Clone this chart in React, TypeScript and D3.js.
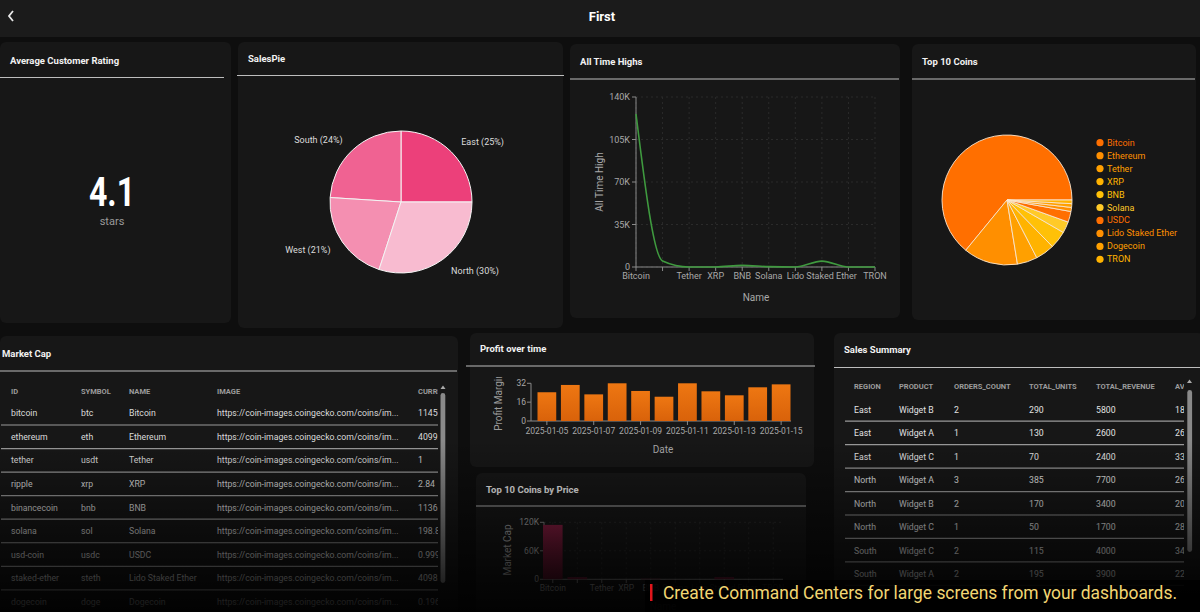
import React from "react";
import * as d3 from "d3";

// ---------------- data ----------------
const pageTitle = "First";
const ratingValue = "4.1";
const ratingUnit = "stars";

const salesRegions = ["East", "South", "West", "North"];
const salesShares = [25, 24, 21, 30];
const salesColors = ["#ec407a", "#f06292", "#f48fb1", "#f8bbd0"];

const coinNames = ["Bitcoin", "Ethereum", "Tether", "XRP", "BNB", "Solana", "USDC", "Lido Staked Ether", "Dogecoin", "TRON"];
const coinAllTimeHighs = [126000, 4950, 1.32, 3.65, 1370, 293, 1.17, 4830, 0.73, 0.43];
const coinMarketCapsB = [2280, 481, 178, 168, 156, 100, 95, 36, 33, 32];
const coinPrices = [114568, 4099, 1, 2.84, 1136, 198.8, 0.9998, 4098, 0.196, 0.334];
const coinPalette = ["#ff6f00", "#ff8f00", "#ffa000", "#ffb300", "#ffc107", "#ffca28"];

const athTicks = [0, 35000, 70000, 105000, 140000];
const priceTicks = [0, 60000, 120000];

const marketColumns = ["ID", "SYMBOL", "NAME", "IMAGE", "CURRENT_PRICE"];
const marketIds = ["bitcoin", "ethereum", "tether", "ripple", "binancecoin", "solana", "usd-coin", "staked-ether", "dogecoin"];
const marketSymbols = ["btc", "eth", "usdt", "xrp", "bnb", "sol", "usdc", "steth", "doge"];
const marketNames = ["Bitcoin", "Ethereum", "Tether", "XRP", "BNB", "Solana", "USDC", "Lido Staked Ether", "Dogecoin"];
const marketImage = "https://coin-images.coingecko.com/coins/im...";
const marketPrices = ["114568", "4099.52", "1", "2.84", "1136.21", "198.85", "0.9998", "4098.72", "0.196"];

const profitDates = ["2025-01-05", "2025-01-06", "2025-01-07", "2025-01-08", "2025-01-09", "2025-01-10", "2025-01-11", "2025-01-12", "2025-01-13", "2025-01-14", "2025-01-15"];
const profitMargins = [24.4, 30.6, 22.6, 32, 25.5, 20.6, 32, 25.2, 21.8, 28.6, 31.1];
const profitTicks = [0, 16, 32];

const summaryColumns = ["REGION", "PRODUCT", "ORDERS_COUNT", "TOTAL_UNITS", "TOTAL_REVENUE", "AVG_PRICE"];
const summaryRegions = ["East", "East", "East", "North", "North", "North", "South", "South"];
const summaryProducts = ["Widget B", "Widget A", "Widget C", "Widget A", "Widget B", "Widget C", "Widget C", "Widget A"];
const summaryOrders = [2, 1, 1, 3, 2, 1, 2, 2];
const summaryUnits = [290, 130, 70, 385, 170, 50, 115, 195];
const summaryRevenue = [5800, 2600, 2400, 7700, 3400, 1700, 4000, 3900];
const summaryAvg = ["18.5", "26.0", "33.5", "26.0", "20.0", "28.0", "34.0", "22.0"];

const bannerText = "Create Command Centers for large screens from your dashboards.";

// ---------------- helpers ----------------
const FONT = "Roboto, 'Noto Sans', 'DejaVu Sans', sans-serif";
let ctx: CanvasRenderingContext2D | null = null;
function measure(text: string, size: number) {
  if (!ctx) ctx = document.createElement("canvas").getContext("2d");
  if (!ctx) return text.length * size * 0.55;
  ctx.font = `${size}px Roboto`;
  return ctx.measureText(text).width;
}
function visibleLabels(labels: string[], pos: number[], size: number, gap = 2) {
  const show = labels.map(() => false);
  let boundary = Infinity;
  for (let i = labels.length - 1; i >= 0; i--) {
    const w = measure(labels[i], size);
    if (pos[i] + w / 2 + gap <= boundary) {
      show[i] = true;
      boundary = pos[i] - w / 2;
    }
  }
  return show;
}
const kFmt = (d: number) => (d === 0 ? "0" : `${d / 1000}K`);

const panels = [
  { x: 0, y: 42, w: 231, h: 281, title: "Average Customer Rating", tx: 10, ty: 60, ly: 77.5, l1: 0, l2: 224 },
  { x: 238, y: 42, w: 325, h: 286, title: "SalesPie", tx: 248, ty: 58, ly: 75.5, l1: 237, l2: 564 },
  { x: 570, y: 44, w: 330, h: 274, title: "All Time Highs", tx: 580, ty: 61, ly: 79, l1: 570, l2: 899 },
  { x: 912, y: 44, w: 284, h: 276, title: "Top 10 Coins", tx: 922, ty: 61, ly: 79, l1: 912, l2: 1195 },
  { x: 0, y: 336, w: 458, h: 290, title: "Market Cap", tx: 2, ty: 353, ly: 371, l1: 0, l2: 457 },
  { x: 470, y: 333, w: 344, h: 134, title: "Profit over time", tx: 480, ty: 348, ly: 366, l1: 466, l2: 815 },
  { x: 476, y: 473, w: 330, h: 150, title: "Top 10 Coins by Price", tx: 486, ty: 489, ly: 506, l1: 476, l2: 806 },
  { x: 834, y: 333, w: 370, h: 290, title: "Sales Summary", tx: 844, ty: 349, ly: 367.5, l1: 834, l2: 1200 },
];

export default function App() {
  // Sales pie
  const sCx = 401, sCy = 202, sR = 71;
  const salesArcs = d3.pie<number>().sort(null).startAngle(Math.PI / 2).endAngle(Math.PI / 2 - 2 * Math.PI)(salesShares);
  const sArc = d3.arc<d3.PieArcDatum<number>>().innerRadius(0).outerRadius(sR);
  const sLabelArc = d3.arc<d3.PieArcDatum<number>>().innerRadius(sR * 1.2).outerRadius(sR * 1.2);

  // Coins pie
  const cCx = 1007, cCy = 200, cR = 65;
  const coinArcs = d3.pie<number>().sort(null).startAngle(Math.PI / 2).endAngle(Math.PI / 2 - 2 * Math.PI)(coinMarketCapsB);
  const cArc = d3.arc<d3.PieArcDatum<number>>().innerRadius(0).outerRadius(cR);

  // ATH line
  const athX = d3.scalePoint<string>().domain(coinNames).range([636, 875]);
  const athY = d3.scaleLinear().domain([0, 140000]).range([267, 97]);
  const athLine = d3.line<number>().x((_, i) => athX(coinNames[i])!).y((d) => athY(d)).curve(d3.curveMonotoneX);
  const athShow = visibleLabels(coinNames, coinNames.map((n) => athX(n)!), 9);

  // Profit bars
  const pX = d3.scaleBand<string>().domain(profitDates).range([537.5, 790.5]).paddingInner(0.2).paddingOuter(0);
  const pY = d3.scaleLinear().domain([0, 32]).range([421, 383.3]);
  const pShow = visibleLabels(profitDates, profitDates.map((d) => pX(d)! + pX.bandwidth() / 2), 8.5);

  // Price bars
  const bX = d3.scaleBand<string>().domain(coinNames).range([543, 783]).paddingInner(0.2).paddingOuter(0);
  const bY = d3.scaleLinear().domain([0, 120000]).range([579.3, 522.3]);
  const bShow = visibleLabels(coinNames, coinNames.map((n) => bX(n)! + bX.bandwidth() / 2), 8.5);

  const mCols = [11, 81, 129, 217, 418];
  const mRowY = marketIds.map((_, i) => 413.3 + i * 23.55);
  const sCols = [854, 899, 954, 1029, 1096, 1175];
  const sRowY = summaryRegions.map((_, i) => 410 + i * 23.45);

  return (
    <div style={{ position: "fixed", left: 0, top: 0, width: 1200, height: 612, background: "#0e0e0e", overflow: "hidden" }}>
      <svg width={1200} height={612} style={{ display: "block" }} fontFamily={FONT}>
        <defs>
          <linearGradient id="fade" x1="0" y1="440" x2="0" y2="612" gradientUnits="userSpaceOnUse">
            <stop offset="0" stopColor="#000" stopOpacity={0} />
            <stop offset="1" stopColor="#000" stopOpacity={0.92} />
          </linearGradient>
          <linearGradient id="orangeBar" x1="0" y1="0" x2="0" y2="1">
            <stop offset="0" stopColor="#ee7712" />
            <stop offset="1" stopColor="#d9620a" />
          </linearGradient>
          <linearGradient id="crimsonBar" x1="0" y1="0" x2="0" y2="1">
            <stop offset="0" stopColor="#8e1f45" />
            <stop offset="1" stopColor="#5a1229" />
          </linearGradient>
          <clipPath id="mClip"><rect x={0} y={372} width={438} height={240} /></clipPath>
          <clipPath id="sClip"><rect x={834} y={372} width={350} height={240} /></clipPath>
          <clipPath id="pClip"><rect x={470} y={377} width={344} height={90} /></clipPath>
        </defs>

        {/* header */}
        <rect x={0} y={0} width={1200} height={37} fill="#1b1b1b" />
        <path d="M13 11 L9 16 L13 21" stroke="#e8e8e8" strokeWidth={1.8} fill="none" />
        <text x={602} y={16} textAnchor="middle" dominantBaseline="central" fill="#fff" fontSize={13} fontWeight={700}>{pageTitle}</text>

        {/* panels */}
        {panels.map((p) => (
          <g key={p.title}>
            <rect x={p.x} y={p.y} width={p.w} height={p.h} rx={6} fill="#171717" />
            <text x={p.tx} y={p.ty} dominantBaseline="central" fill="#f2f2f2" fontSize={9.5} fontWeight={700}>{p.title}</text>
            <line x1={p.l1} x2={p.l2} y1={p.ly} y2={p.ly} stroke="#bdbdbd" strokeWidth={1.2} />
          </g>
        ))}

        {/* rating */}
        <text x={112} y={192} textAnchor="middle" dominantBaseline="central" fill="#fff" fontSize={40} fontWeight={700} textLength={46} lengthAdjust="spacingAndGlyphs">{ratingValue}</text>
        <text x={112} y={221} textAnchor="middle" dominantBaseline="central" fill="#9a9a9a" fontSize={11}>{ratingUnit}</text>

        {/* sales pie */}
        <g transform={`translate(${sCx},${sCy})`}>
          {salesArcs.map((a, i) => (
            <path key={i} d={sArc(a)!} fill={salesColors[i]} stroke="#f4f4f4" strokeWidth={1} />
          ))}
          {salesArcs.map((a, i) => {
            const [lx, ly] = sLabelArc.centroid(a);
            return (
              <text key={i} x={lx} y={ly} textAnchor={lx >= 0 ? "start" : "end"} dominantBaseline="central" fill="#dcdcdc" fontSize={9}>
                {`${salesRegions[i]} (${salesShares[i]}%)`}
              </text>
            );
          })}
        </g>

        {/* All time highs */}
        <g>
          {athTicks.map((t) => (
            <line key={t} x1={636} x2={875} y1={athY(t)} y2={athY(t)} stroke="#2b2b2b" strokeDasharray="2 3" />
          ))}
          {coinNames.map((n) => (
            <line key={n} x1={athX(n)} x2={athX(n)} y1={97} y2={267} stroke="#2b2b2b" strokeDasharray="2 3" />
          ))}
          <line x1={636} x2={636} y1={97} y2={267} stroke="#8a8a8a" />
          <line x1={636} x2={875} y1={267} y2={267} stroke="#8a8a8a" />
          {athTicks.map((t) => (
            <g key={t}>
              <line x1={632} x2={636} y1={athY(t)} y2={athY(t)} stroke="#8a8a8a" />
              <text x={630} y={athY(t)} textAnchor="end" dominantBaseline="central" fill="#a8a8a8" fontSize={9}>{kFmt(t)}</text>
            </g>
          ))}
          {coinNames.map((n, i) => (
            <g key={n}>
              <line x1={athX(n)} x2={athX(n)} y1={267} y2={271} stroke="#8a8a8a" />
              {athShow[i] && (
                <text x={athX(n)} y={276} textAnchor="middle" dominantBaseline="central" fill="#a8a8a8" fontSize={9}>{n}</text>
              )}
            </g>
          ))}
          <path d={athLine(coinAllTimeHighs)!} fill="none" stroke="#3f9a3f" strokeWidth={1.6} />
          <text transform="translate(599,182) rotate(-90)" textAnchor="middle" dominantBaseline="central" fill="#a8a8a8" fontSize={10}>All Time High</text>
          <text x={756} y={297} textAnchor="middle" dominantBaseline="central" fill="#a8a8a8" fontSize={10}>Name</text>
        </g>

        {/* top 10 coins pie */}
        <g transform={`translate(${cCx},${cCy})`}>
          {coinArcs.map((a, i) => (
            <path key={i} d={cArc(a)!} fill={coinPalette[i % coinPalette.length]} stroke="#fbe7cf" strokeWidth={0.9} />
          ))}
        </g>
        {coinNames.map((n, i) => (
          <g key={n}>
            <circle cx={1100} cy={142.7 + i * 12.96} r={3.6} fill={coinPalette[i % coinPalette.length]} />
            <text x={1107} y={142.7 + i * 12.96} dominantBaseline="central" fill={coinPalette[i % coinPalette.length]} fontSize={9}>{n}</text>
          </g>
        ))}

        {/* market cap table */}
        <g clipPath="url(#mClip)">
          {marketColumns.map((c, j) => (
            <text key={c} x={mCols[j]} y={391} dominantBaseline="central" fill="#9c9c9c" fontSize={7.5} fontWeight={700}>{c}</text>
          ))}
          {marketIds.map((id, i) => (
            <g key={id}>
              {i < marketIds.length - 1 && (
                <line x1={1} x2={438} y1={mRowY[i] + 11.7} y2={mRowY[i] + 11.7} stroke="#9a9a9a" strokeWidth={1.2} />
              )}
              {[id, marketSymbols[i], marketNames[i], marketImage, marketPrices[i]].map((v, j) => (
                <text key={j} x={mCols[j]} y={mRowY[i]} dominantBaseline="central" fill="#dadada" fontSize={8.7}>{v}</text>
              ))}
            </g>
          ))}
        </g>
        <path d="M440.5 389 L443 385.5 L445.5 389 Z" fill="#aaa" />
        <rect x={440.5} y={393} width={4.8} height={190} rx={2.4} fill="#8a8a8a" />

        {/* profit over time */}
        <g>
          <line x1={531} x2={531} y1={383.3} y2={421} stroke="#8a8a8a" />
          <line x1={531} x2={791} y1={421} y2={421} stroke="#8a8a8a" />
          {profitTicks.map((t) => (
            <g key={t}>
              <line x1={527} x2={531} y1={pY(t)} y2={pY(t)} stroke="#8a8a8a" />
              <text x={526} y={pY(t)} textAnchor="end" dominantBaseline="central" fill="#a8a8a8" fontSize={8.5}>{t}</text>
            </g>
          ))}
          {profitDates.map((d, i) => (
            <rect key={d} x={pX(d)} y={pY(profitMargins[i])} width={pX.bandwidth()} height={421 - pY(profitMargins[i])} fill="url(#orangeBar)" />
          ))}
          {profitDates.map((d, i) => {
            const cx = pX(d)! + pX.bandwidth() / 2;
            return pShow[i] ? (
              <g key={d}>
                <line x1={cx} x2={cx} y1={421} y2={425} stroke="#8a8a8a" />
                <text x={cx} y={431} textAnchor="middle" dominantBaseline="central" fill="#a8a8a8" fontSize={8.5}>{d}</text>
              </g>
            ) : null;
          })}
          <g clipPath="url(#pClip)">
            <text transform="translate(498,402) rotate(-90)" textAnchor="middle" dominantBaseline="central" fill="#9a9a9a" fontSize={10}>Profit Margin</text>
          </g>
          <text x={663} y={449} textAnchor="middle" dominantBaseline="central" fill="#a8a8a8" fontSize={10}>Date</text>
        </g>

        {/* top 10 coins by price */}
        <g>
          {priceTicks.map((t) => (
            <line key={t} x1={544} x2={783} y1={bY(t)} y2={bY(t)} stroke="#2b2b2b" strokeDasharray="2 3" />
          ))}
          {coinNames.map((n) => (
            <line key={n} x1={bX(n)! + bX.bandwidth() / 2} x2={bX(n)! + bX.bandwidth() / 2} y1={522.3} y2={579.3} stroke="#2b2b2b" strokeDasharray="2 3" />
          ))}
          <line x1={544} x2={544} y1={522.3} y2={579.3} stroke="#8a8a8a" />
          <line x1={544} x2={783} y1={579.3} y2={579.3} stroke="#8a8a8a" />
          {priceTicks.map((t) => (
            <g key={t}>
              <line x1={540} x2={544} y1={bY(t)} y2={bY(t)} stroke="#8a8a8a" />
              <text x={539} y={bY(t)} textAnchor="end" dominantBaseline="central" fill="#a8a8a8" fontSize={8.5}>{kFmt(t)}</text>
            </g>
          ))}
          {coinNames.map((n, i) => (
            <rect key={n} x={bX(n)} y={bY(coinPrices[i])} width={bX.bandwidth()} height={579.3 - bY(coinPrices[i])} fill="url(#crimsonBar)" />
          ))}
          {coinNames.map((n, i) => {
            const cx = bX(n)! + bX.bandwidth() / 2;
            return (
              <g key={n}>
                <line x1={cx} x2={cx} y1={579.3} y2={583} stroke="#8a8a8a" />
                {bShow[i] && (
                  <text x={cx} y={588} textAnchor="middle" dominantBaseline="central" fill="#a8a8a8" fontSize={8.5}>{n}</text>
                )}
              </g>
            );
          })}
          <text transform="translate(507,550) rotate(-90)" textAnchor="middle" dominantBaseline="central" fill="#a8a8a8" fontSize={10}>Market Cap</text>
          <text x={663} y={606} textAnchor="middle" dominantBaseline="central" fill="#a8a8a8" fontSize={10}>Name</text>
        </g>

        {/* sales summary table */}
        <g clipPath="url(#sClip)">
          {summaryColumns.map((c, j) => (
            <text key={c} x={sCols[j]} y={386.7} dominantBaseline="central" fill="#9c9c9c" fontSize={7.5} fontWeight={700}>{c}</text>
          ))}
          {summaryRegions.map((r, i) => (
            <g key={i}>
              <line x1={845} x2={1186} y1={sRowY[i] + 11.2} y2={sRowY[i] + 11.2} stroke="#9a9a9a" strokeWidth={1.2} />
              {[r, summaryProducts[i], String(summaryOrders[i]), String(summaryUnits[i]), String(summaryRevenue[i]), summaryAvg[i]].map((v, j) => (
                <text key={j} x={sCols[j]} y={sRowY[i]} dominantBaseline="central" fill="#e2e2e2" fontSize={8.7}>{v}</text>
              ))}
            </g>
          ))}
        </g>
        <path d="M1187 383 L1189.5 379.5 L1192 383 Z" fill="#aaa" />
        <rect x={1187.3} y={390} width={4.8} height={162} rx={2.4} fill="#8a8a8a" />

        {/* bottom fade */}
        <rect x={0} y={440} width={1200} height={172} fill="url(#fade)" />

        {/* banner */}
        <rect x={645} y={580} width={555} height={32} fill="#000" fillOpacity={0.8} />
        <rect x={650} y={584} width={2.5} height={17} fill="#e0151b" />
        <text x={663} y={599} fill="#f2d673" fontSize={19} textLength={514} lengthAdjust="spacingAndGlyphs">{bannerText}</text>
      </svg>
    </div>
  );
}
